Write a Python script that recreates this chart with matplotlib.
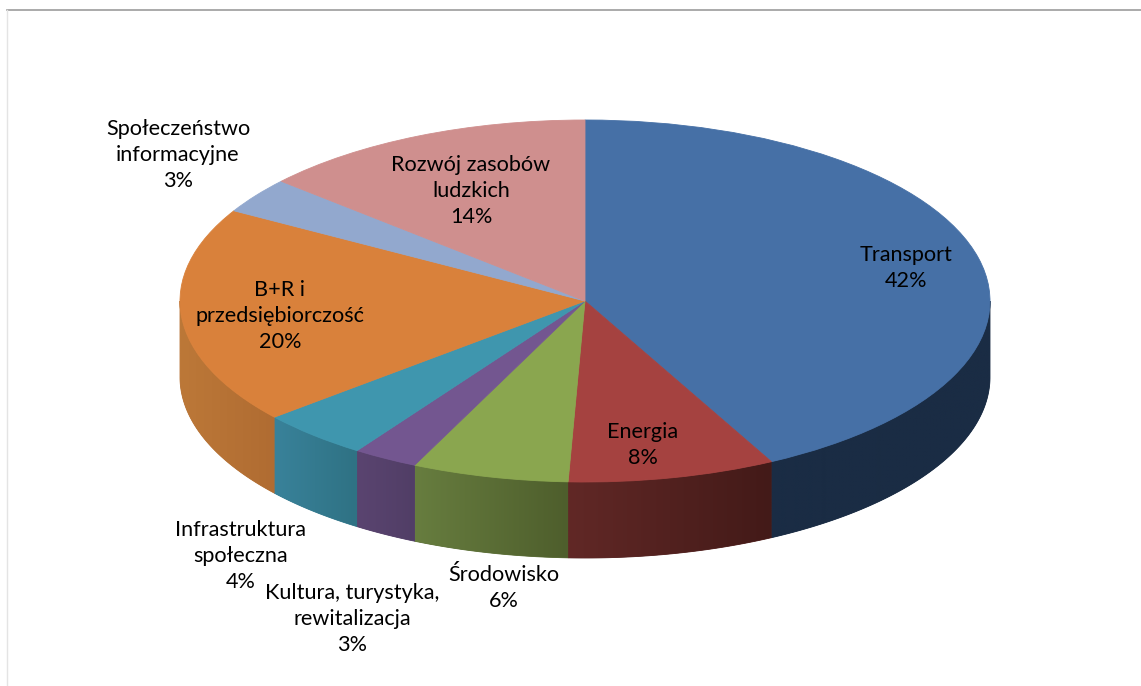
import numpy as np
import matplotlib
matplotlib.use('Agg')
import matplotlib.pyplot as plt
from matplotlib.colors import to_rgb
from matplotlib.patches import Polygon

##################################### data
labels = ['Transport', 'Energia', 'Środowisko', 'Kultura, turystyka,\nrewitalizacja',
          'Infrastruktura\nspołeczna', 'B+R i\nprzedsiębiorczość', 'Społeczeństwo\ninformacyjne',
          'Rozwój zasobów\nludzkich']
percent_labels = ['42%', '8%', '6%', '3%', '4%', '20%', '3%', '14%']
# shares, a bit finer than the printed percents
values = [42.4, 8.28, 6.25, 2.6, 4.4, 19.4, 3.2, 13.5]

top_colors = ['#4670A6', '#A54240', '#8AA64F', '#735690', '#3F96AE', '#D9813B', '#92A8CE', '#CF8F8E']
side_left = ['#1A2C44', '#612826', '#677D3F', '#5A4470', '#39829A', '#BC7838', '#92A8CE', '#CF8F8E']
side_right = ['#1A2C44', '#431A18', '#4E5E2C', '#513E66', '#2F7284', '#B06C32', '#92A8CE', '#CF8F8E']

# label centres in picture pixels
label_px = [(906, 268), (643, 445), (504, 588), (352, 619), (241, 556), (280, 316), (178, 155), (471, 191)]

##################################### layout, in picture pixels
W, H = 1141, 686
cx, cy, rx, ry = 585, 301, 405, 181
depth = 76 / ry


def px(x, y):
    return (x - cx) / rx, (cy - y) / ry


fig = plt.figure(figsize=(W / 100, H / 100), dpi=100)
ax = fig.add_axes([0, 0, 1, 1])

# top face, the unit circle gets squeezed to an ellipse by the axis limits
wedges, _ = ax.pie(values, colors=top_colors, startangle=90, counterclock=False, radius=1,
                   wedgeprops={'linewidth': 0.6}, frame=False, normalize=True)
for w in wedges:
    w.set_edgecolor(w.get_facecolor())
    w.set_zorder(3)

# rim, only the front half of the ellipse shows (angles 0 to -180)
shares = np.array(values) / sum(values) * 360
ends = 90 - np.cumsum(shares)
starts = ends + shares
for i in range(len(values)):
    lo = max(ends[i], -180)
    hi = min(starts[i], 0)
    if hi <= lo:
        continue
    t = np.radians(np.linspace(lo, hi, 120))
    xs = np.cos(t)
    ys = np.sin(t)
    c0 = np.array(to_rgb(side_left[i]))
    c1 = np.array(to_rgb(side_right[i]))
    outline = np.column_stack([np.r_[xs, xs[::-1]], np.r_[ys, ys[::-1] - depth]])
    # plain piece underneath closes the hair gaps between the cut images
    clip = Polygon(outline, closed=True, facecolor=(c0 + c1) / 2, edgecolor=(c0 + c1) / 2,
                   lw=0.6, transform=ax.transData, zorder=1.9)
    ax.add_patch(clip)
    # horizontal colour ramp across the piece of rim, cut to its outline
    f = np.linspace(0, 1, 64)[:, None]
    ramp = (1 - f) * c0 + f * c1
    im = ax.imshow(ramp[None, :, :], extent=[xs.min(), xs.max(), ys.min() - depth, ys.max()],
                   aspect='auto', origin='lower', interpolation='bilinear', zorder=2)
    im.set_clip_path(clip)

for name, pct, pos in zip(labels, percent_labels, label_px):
    x, y = px(*pos)
    ax.text(x, y, name + '\n' + pct, ha='center', va='center', multialignment='center',
            fontsize=15.6, family='Lato', color='black', linespacing=1.38, zorder=5)

# thin frame of the original sheet
x0, y0 = px(7, 10)
x1, y1 = px(W, 10)
ax.plot([x0, x1], [y0, y1], color='#9C9C9C', lw=1.2, zorder=6)
x2, y2 = px(7, H)
ax.plot([x0, x2], [y0, y2], color='#E4E4E4', lw=1.0, zorder=6)

ax.set_aspect('auto')
ax.set_xlim(px(0, 0)[0], px(W, 0)[0])
ax.set_ylim(px(0, H)[1], px(0, 0)[1])
ax.axis('off')

plt.savefig('out.png', dpi=100)
